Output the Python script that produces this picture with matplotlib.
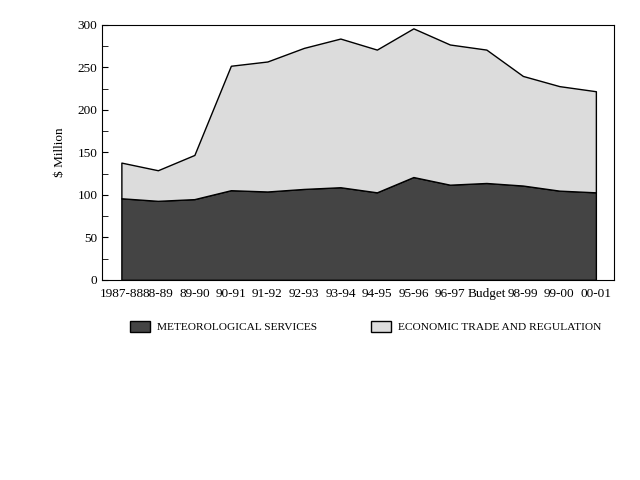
import numpy as np
import matplotlib
matplotlib.use('Agg')
import matplotlib.pyplot as plt
from matplotlib.ticker import MultipleLocator

# Dados
years = ['1987-88', '88-89', '89-90', '90-91', '91-92', '92-93', '93-94',
         '94-95', '95-96', '96-97', 'Budget', '98-99', '99-00', '00-01']
meteorological = [96, 93, 95, 105.5, 104, 107, 109, 103, 121, 112, 114, 111, 105, 103]
economic = [42, 36, 52, 146.5, 153, 166, 175, 168, 175, 165, 157, 129, 123, 119]

plt.rcParams['font.family'] = ['Liberation Serif', 'DejaVu Serif']

fig = plt.figure(figsize=(6.4, 4.8), dpi=100)
ax = fig.add_axes([0.16, 0.417, 0.799, 0.531])

x = np.arange(len(years))
polys = ax.stackplot(x, meteorological, economic,
                     colors=['#444444', '#dcdcdc'],
                     edgecolor='black', linewidth=1,
                     labels=['METEOROLOGICAL SERVICES', 'ECONOMIC TRADE AND REGULATION'])

ax.set_xlim(-0.52, 13.49)
ax.set_ylim(0, 300)
ax.set_xticks(x)
ax.set_xticklabels(years, fontsize=9.5)
ax.tick_params(axis='x', length=0, pad=6)
ax.yaxis.set_major_locator(MultipleLocator(50))
ax.yaxis.set_minor_locator(MultipleLocator(25))
ax.tick_params(axis='y', which='both', direction='in', length=4, labelsize=9.5)
ax.set_ylabel('$ Million', fontsize=9.5, labelpad=8)

fig.legend(handles=polys, loc='center', bbox_to_anchor=(0.571, 0.32), ncol=2,
           frameon=False, fontsize=8.2, handlelength=1.8, handleheight=1.2,
           columnspacing=4.7, handletextpad=0.6)

plt.savefig('out.png', dpi=100)
